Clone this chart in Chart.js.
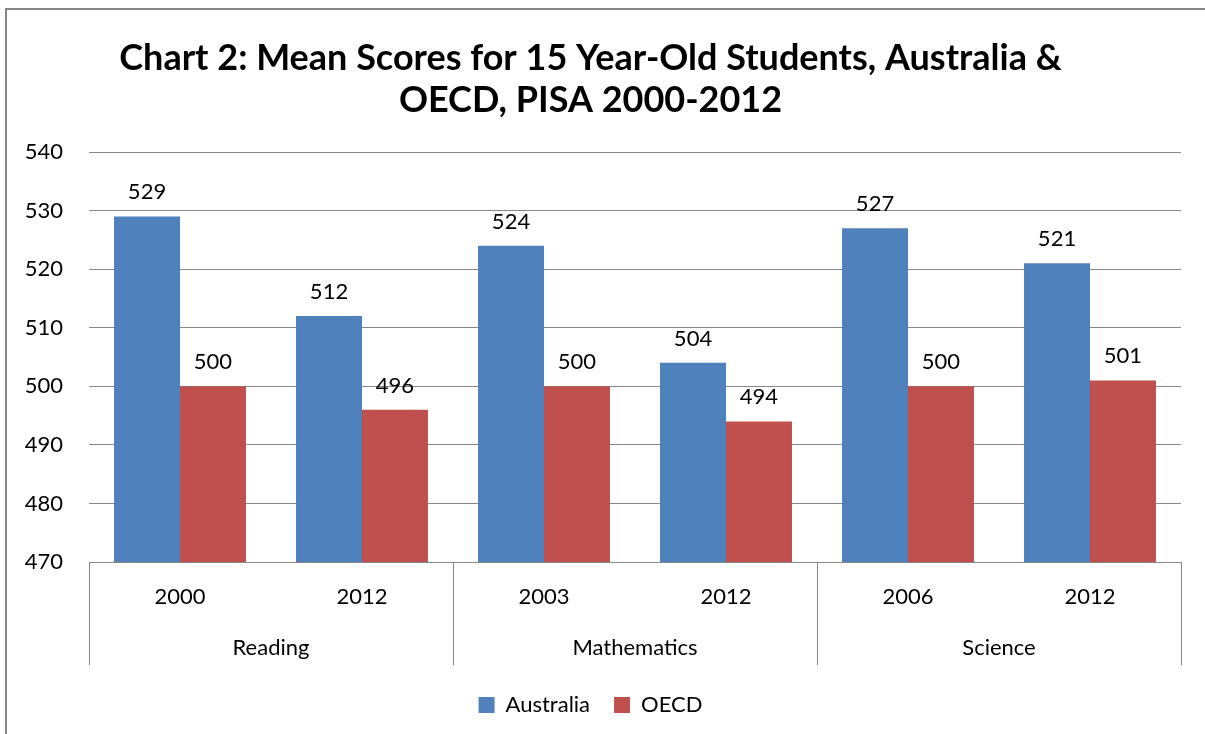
<!DOCTYPE html>
<html>
<head>
<meta charset="utf-8">
<script src="https://cdn.jsdelivr.net/npm/chart.js@4"></script>
<style>
  html, body { margin: 0; padding: 0; background: #fff; }
  #wrap { width: 1205px; height: 734px; }
</style>
</head>
<body>
<div id="wrap"><canvas id="pisaChart" width="1205" height="734"></canvas></div>
<script>
const years = ["2000", "2012", "2003", "2012", "2006", "2012"];
const subjects = ["Reading", "Mathematics", "Science"];
const australiaScores = [529, 512, 524, 504, 527, 521];
const oecdScores = [500, 496, 500, 494, 500, 501];
const yTicks = [470, 480, 490, 500, 510, 520, 530, 540];

const FONT = "Lato, 'Open Sans', sans-serif";

// outer frame like the excel chart border
const framePlugin = {
  id: "frame",
  afterDraw(chart) {
    const ctx = chart.ctx;
    ctx.save();
    ctx.strokeStyle = "#868686";
    ctx.lineWidth = 2;
    ctx.strokeRect(6, 9, 1220, 750);
    ctx.restore();
  },
};

// values above each bar
const valueLabels = {
  id: "valueLabels",
  afterDatasetsDraw(chart) {
    const ctx = chart.ctx;
    ctx.save();
    ctx.font = "22px " + FONT;
    ctx.fillStyle = "#000";
    ctx.textAlign = "center";
    ctx.textBaseline = "alphabetic";
    chart.data.datasets.forEach((ds, i) => {
      chart.getDatasetMeta(i).data.forEach((bar, j) => {
        ctx.fillText(ds.data[j], bar.x, bar.y - 17);
      });
    });
    ctx.restore();
  },
};

// second level of the category axis (subject names + dividers)
const groupAxis = {
  id: "groupAxis",
  afterDraw(chart) {
    const ctx = chart.ctx;
    const x = chart.scales.x;
    const area = chart.chartArea;
    const perGroup = years.length / subjects.length;
    ctx.save();
    ctx.strokeStyle = "#868686";
    ctx.lineWidth = 1;
    const edges = [area.left];
    for (let g = 1; g < subjects.length; g++) {
      const i = g * perGroup;
      edges.push((x.getPixelForValue(i - 1) + x.getPixelForValue(i)) / 2);
    }
    edges.push(area.right);
    edges.forEach((px) => {
      const xx = Math.round(px) + 0.5;
      ctx.beginPath();
      ctx.moveTo(xx, area.bottom);
      ctx.lineTo(xx, area.bottom + 103);
      ctx.stroke();
    });
    ctx.font = "22px " + FONT;
    ctx.fillStyle = "#000";
    ctx.textAlign = "center";
    ctx.textBaseline = "middle";
    subjects.forEach((s, g) => {
      ctx.fillText(s, (edges[g] + edges[g + 1]) / 2, area.bottom + 86);
    });
    ctx.restore();
  },
};

new Chart(document.getElementById("pisaChart"), {
  type: "bar",
  data: {
    labels: years,
    datasets: [
      {
        label: "Australia",
        data: australiaScores,
        backgroundColor: "#4F81BD",
        categoryPercentage: 0.725,
        barPercentage: 1.0,
      },
      {
        label: "OECD",
        data: oecdScores,
        backgroundColor: "#C0504D",
        categoryPercentage: 0.725,
        barPercentage: 1.0,
      },
    ],
  },
  options: {
    responsive: false,
    animation: false,
    layout: { padding: { left: 0, right: 24, top: 0, bottom: 8 } },
    plugins: {
      title: {
        display: true,
        text: ["Chart 2: Mean Scores for 15 Year-Old Students, Australia &", "OECD, PISA 2000-2012"],
        color: "#000",
        font: { family: FONT, size: 36, weight: "bold", lineHeight: 1.167 },
        padding: { top: 37, bottom: 31 },
      },
      legend: {
        position: "bottom",
        labels: {
          color: "#000",
          font: { family: FONT, size: 22 },
          boxWidth: 16,
          boxHeight: 16,
          padding: 24,
        },
      },
      tooltip: { enabled: false },
    },
    scales: {
      x: {
        grid: { display: false, drawTicks: false },
        border: { display: true, color: "#868686" },
        ticks: { color: "#000", font: { family: FONT, size: 22 }, padding: 22, maxRotation: 0 },
        afterFit(scale) { scale.height = 108; },
      },
      y: {
        min: 470,
        max: 540,
        afterBuildTicks(scale) { scale.ticks = yTicks.map((v) => ({ value: v })); },
        grid: { color: "#868686", drawTicks: false },
        border: { display: false },
        ticks: { color: "#000", font: { family: FONT, size: 22 }, padding: 26 },
        afterFit(scale) { scale.width = 89; },
      },
    },
  },
  plugins: [framePlugin, valueLabels, groupAxis],
});
</script>
</body>
</html>
